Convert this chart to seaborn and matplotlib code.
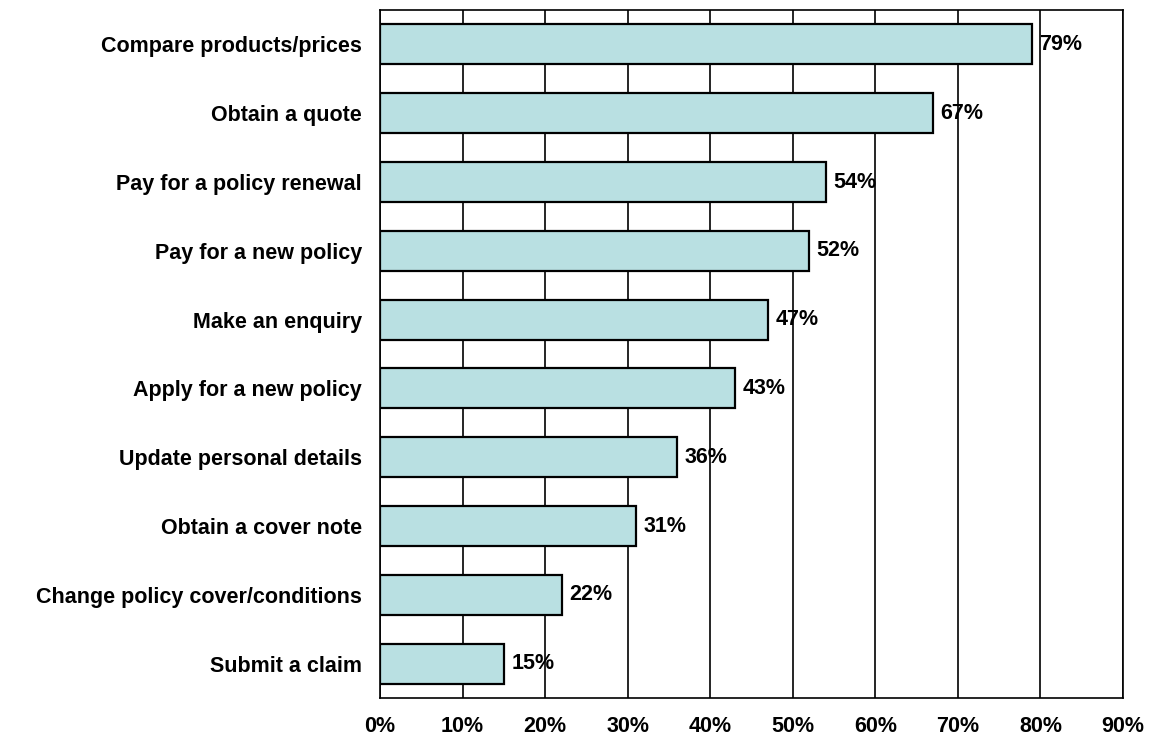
import matplotlib
matplotlib.use("Agg")
import matplotlib.pyplot as plt
import seaborn as sns
import pandas as pd
import numpy as np

categories = ["Compare products/prices", "Obtain a quote", "Pay for a policy renewal",
              "Pay for a new policy", "Make an enquiry", "Apply for a new policy",
              "Update personal details", "Obtain a cover note",
              "Change policy cover/conditions", "Submit a claim"]
values = [79, 67, 54, 52, 47, 43, 36, 31, 22, 15]
xticks = [0, 10, 20, 30, 40, 50, 60, 70, 80, 90]

sns.set_style("white")
plt.rcParams['font.family'] = ['Liberation Sans', 'DejaVu Sans']
plt.rcParams['font.weight'] = 'bold'
plt.rcParams['text.color'] = 'black'
plt.rcParams['xtick.color'] = 'black'
plt.rcParams['ytick.color'] = 'black'

data = pd.DataFrame({"task": categories, "pct": values})

fig = plt.figure(figsize=(11.57, 7.42), dpi=100)
ax = fig.add_axes([0.3284, 0.0593, 0.6422, 0.9272])

sns.barplot(data=data, x="pct", y="task", orient="h", color="#b9e0e2",
            edgecolor="black", linewidth=1.6, width=0.58, saturation=1, ax=ax)

fs = 15.5
ax.set_xlim(0, 90)
ax.set_ylim(len(categories) - 0.5, -0.5)
ax.set_xticks(xticks)
ax.set_xticklabels([f"{v}%" for v in xticks], fontsize=fs, fontweight="bold")
ax.set_yticks(range(len(categories)))
ax.set_yticklabels(categories, fontsize=fs, fontweight="bold")
ax.set_yticks(np.arange(-0.5, len(categories), 1), minor=True)
ax.tick_params(axis="y", which="major", length=0, pad=13)
ax.tick_params(axis="y", which="minor", length=6, width=1.2, color="black")
ax.tick_params(axis="x", length=6, width=1.2, color="black", pad=7)
ax.set_xlabel("")
ax.set_ylabel("")

ax.grid(axis="x", color="black", linewidth=1.2)
ax.set_axisbelow(True)
for s in ax.spines.values():
    s.set_color("black")
    s.set_linewidth(1.2)

for i, v in enumerate(values):
    ax.text(v + 0.9, i, f"{v}%", va="center", ha="left", fontsize=fs, fontweight="bold")

fig.savefig("out.png", dpi=100)
